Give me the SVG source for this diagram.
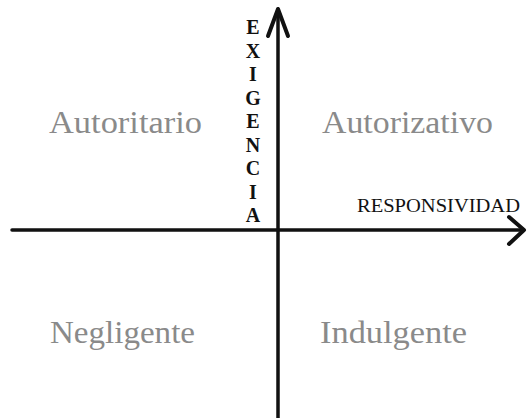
<svg xmlns="http://www.w3.org/2000/svg" width="528" height="418" viewBox="0 0 528 418">
<style>
.axis{stroke:#111;stroke-width:3.5;fill:none;stroke-linecap:round}
.head{stroke:#111;stroke-width:4;fill:none;stroke-linecap:round;stroke-linejoin:round}
.quad{font-family:"Liberation Serif","Times New Roman",serif;font-size:31px;fill:#8a8a8a}
.ylab{font-family:"Liberation Serif","Times New Roman",serif;font-size:20px;font-weight:bold;fill:#111;text-anchor:middle}
.xlab{font-family:"Liberation Serif","Times New Roman",serif;font-size:19px;fill:#111}
</style>
<rect width="528" height="418" fill="#fff"/>
<g id="connectors">
<line class="axis" x1="278" y1="10" x2="278" y2="418"/>
<polyline class="head" points="268,36 278,9 288,36"/>
<line class="axis" x1="12" y1="230" x2="523" y2="230"/>
<polyline class="head" points="509,217 524,230 509,244"/>
</g>
<g id="exigencia">
<text class="ylab" x="253" y="34">E</text>
<text class="ylab" x="253" y="57.5">X</text>
<text class="ylab" x="253" y="81">I</text>
<text class="ylab" x="253" y="104.5">G</text>
<text class="ylab" x="253" y="128">E</text>
<text class="ylab" x="253" y="151.5">N</text>
<text class="ylab" x="253" y="175">C</text>
<text class="ylab" x="253" y="198.5">I</text>
<text class="ylab" x="253" y="222">A</text>
</g>
<g id="responsividad">
<text class="xlab" x="357" y="212" textLength="163" lengthAdjust="spacingAndGlyphs">RESPONSIVIDAD</text>
</g>
<g id="autoritario">
<text class="quad" x="49" y="133" textLength="153" lengthAdjust="spacingAndGlyphs">Autoritario</text>
</g>
<g id="autorizativo">
<text class="quad" x="322" y="133" textLength="171" lengthAdjust="spacingAndGlyphs">Autorizativo</text>
</g>
<g id="negligente">
<text class="quad" x="50" y="343" textLength="145" lengthAdjust="spacingAndGlyphs">Negligente</text>
</g>
<g id="indulgente">
<text class="quad" x="320" y="343" textLength="147" lengthAdjust="spacingAndGlyphs">Indulgente</text>
</g>
</svg>
